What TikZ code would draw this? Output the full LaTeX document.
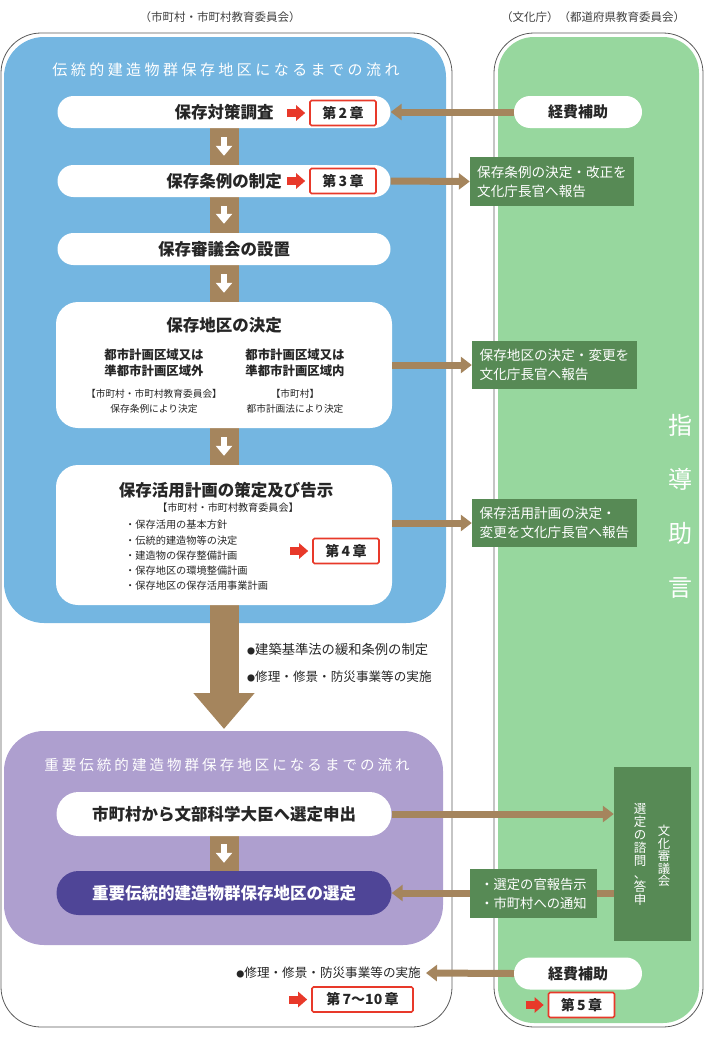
\documentclass[tikz,border=0pt]{standalone}
\usepackage{fontspec}
\setmainfont{Noto Sans CJK JP}
\usetikzlibrary{arrows.meta,positioning}
\definecolor{skyblue}{HTML}{74B6E1}
\definecolor{leafgreen}{HTML}{97D79E}
\definecolor{darkgreen}{HTML}{578A55}
\definecolor{barbrown}{HTML}{A5855D}
\definecolor{lilac}{HTML}{AE9FCF}
\definecolor{deeppurple}{HTML}{4F4597}
\definecolor{chapred}{HTML}{E8392A}
\definecolor{framegray}{HTML}{5A5A5A}
\newcommand\fsz[2]{\fontsize{#1}{#2}\selectfont}
\tikzset{
  pill/.style={fill=white, rounded corners=16pt, minimum width=333pt, minimum height=32pt, inner sep=0pt, text=black!85, font=\fsz{16.5}{19}\bfseries},
  widepill/.style={pill, minimum width=335pt, minimum height=44pt, rounded corners=22pt},
  panel/.style={fill=white, rounded corners=22pt, minimum width=336pt, inner sep=0pt},
  subsidy/.style={pill, minimum width=128pt, font=\fsz{15}{18}\bfseries},
  chapbox/.style={draw=chapred, line width=1.6pt, fill=white, rounded corners=1.5pt, minimum width=66pt, minimum height=25pt, inner sep=0pt, text=black!85, font=\fsz{14}{16}\bfseries},
  redarrow/.style={chapred, line width=8pt, -{Triangle[length=9pt, width=15pt]}},
  report/.style={fill=darkgreen, text=white, align=left, minimum width=165pt, minimum height=48pt, inner sep=0pt, font=\fsz{13.6}{19}},
  bar/.style={barbrown, line width=29pt},
  conn/.style={barbrown, line width=7pt, -{Triangle[length=11pt, width=16pt]}},
  wdown/.style={white, line width=6pt, -{Triangle[length=10pt, width=16pt]}},
  flowtitle/.style={text=white, inner sep=0pt, font=\fsz{15}{18}\addfontfeature{LetterSpace=23}},
  tate/.style={text=white, align=center, inner sep=0pt, font=\fsz{12.5}{13.1}}
}
\begin{document}
\begin{tikzpicture}[x=1pt, y=-1pt]
  \useasboundingbox (0,0) rectangle (707,1052);
  % frames and coloured regions
  \draw[framegray, line width=0.8pt, rounded corners=40pt] (1,33) rectangle (452,1027);
  \draw[framegray, line width=0.8pt, rounded corners=40pt] (494,33) rectangle (703,1027);
  \fill[skyblue, rounded corners=40pt] (4,37) rectangle (446,623);
  \fill[lilac, rounded corners=40pt] (4,731) rectangle (443,945);
  \fill[leafgreen, rounded corners=36pt] (498,37) rectangle (699,1023);
  \node[font=\fsz{11.5}{14}, text=black!75] (hdcity) at (220,17) {（市町村・市町村教育委員会）};
  \node[font=\fsz{11.5}{14}, text=black!75] (hdagency) at (593,17) {（文化庁）（都道府県教育委員会）};
  \node[flowtitle] (titleA) at (226,70) {伝統的建造物群保存地区になるまでの流れ};
  \node[flowtitle, font=\fsz{14.5}{18}\addfontfeature{LetterSpace=21}] (titleB) at (227,765) {重要伝統的建造物群保存地区になるまでの流れ};
  % brown spine
  \coordinate (bartop) at (224,112);
  \coordinate (tip) at (224,729);
  \draw[bar, -{Triangle[length=36pt, width=59pt]}] (bartop) -- (tip);
  \coordinate (applyc) at (224,814);
  \coordinate (designc) at (224,893);
  \draw[bar] (applyc) -- (designc);
  % steps
  \node[pill] (survey) at (224,112) {保存対策調査};
  \node[pill] (ordinance) at (224,181) {保存条例の制定};
  \node[pill] (council) at (224,249) {保存審議会の設置};
  \node[panel, minimum height=126pt] (district) at (224,365) {};
  \node[font=\fsz{16.5}{19}\bfseries, text=black!85] (districttitle) at (224,325) {保存地区の決定};
  \node[font=\fsz{12.4}{16}\bfseries, text=black!85, align=center] (outside) at (154,363) {都市計画区域又は\\準都市計画区域外};
  \node[font=\fsz{9.7}{15}, text=black!85, align=center] (outsideby) at (154,401.5) {【市町村・市町村教育委員会】\\保存条例により決定};
  \node[font=\fsz{12.4}{16}\bfseries, text=black!85, align=center] (inside) at (295,363) {都市計画区域又は\\準都市計画区域内};
  \node[font=\fsz{9.7}{15}, text=black!85, align=center] (insideby) at (295,401.5) {【市町村】\\都市計画法により決定};
  \node[panel, minimum height=140pt] (plan) at (224,535) {};
  \node[font=\fsz{16.5}{19}\bfseries, text=black!85] (plantitle) at (226,490) {保存活用計画の策定及び告示};
  \node[font=\fsz{10.1}{12}, text=black!85] (planby) at (228,508) {【市町村・市町村教育委員会】};
  \node[font=\fsz{10.2}{15.3}, text=black!85, align=left, anchor=west, inner sep=0pt] (planitems) at (125,555.5) {・保存活用の基本方針\\・伝統的建造物等の決定\\・建造物の保存整備計画\\・保存地区の環境整備計画\\・保存地区の保存活用事業計画};
  \foreach \a/\b in {survey/ordinance, ordinance/council, council/district, district/plan}
    \draw[wdown] ([yshift=-9pt]\a.south) -- ([yshift=9pt]\b.north);
  % chapters
  \node[chapbox] (ch2) at (343,113) {第\,2\,章};
  \node[chapbox] (ch3) at (343,181) {第\,3\,章};
  \node[chapbox] (ch4) at (346,551) {第\,4\,章};
  \node[chapbox, minimum width=101pt] (ch710) at (362.5,999.5) {第\,7～10\,章};
  \node[chapbox] (ch5) at (581.5,1005) {第\,5\,章};
  \foreach \c in {ch2, ch3, ch4, ch710, ch5}
    \draw[redarrow] ([xshift=-22pt]\c.west) -- ([xshift=-4pt]\c.west);
  % agency side
  \node[subsidy] (subsidyA) at (578,112) {経費補助};
  \node[subsidy] (subsidyB) at (578,973.5) {経費補助};
  \node[report, minimum width=164pt, minimum height=49pt] (reportA) at (552,181.5) {保存条例の決定・改正を\\文化庁長官へ報告};
  \node[report] (reportB) at (554.5,365) {保存地区の決定・変更を\\文化庁長官へ報告};
  \node[report] (reportC) at (554.5,523) {保存活用計画の決定・\\変更を文化庁長官へ報告};
  \draw[conn] (subsidyA.west) -- (survey.east);
  \draw[conn] (ordinance.east) -- (reportA.west);
  \draw[conn] (district.east) -- (reportB.west);
  \draw[conn] (plan.east |- reportC.west) -- (reportC.west);
  \node[font=\fsz{24}{54}, text=white, align=center] (guidance) at (680,506) {指\\導\\助\\言};
  % after the local flow
  \node[font=\fsz{13.3}{16}, text=black!85, anchor=west, inner sep=0pt] (relax) at (247,649) {{\fsz{8}{8}●}建築基準法の緩和条例の制定};
  \node[font=\fsz{12.6}{16}, text=black!85, anchor=west, inner sep=0pt] (worksA) at (247,677) {{\fsz{8}{8}●}修理・修景・防災事業等の実施};
  % national flow
  \node[widepill] (apply) at (applyc) {市町村から文部科学大臣へ選定申出};
  \node[widepill, fill=deeppurple, text=white] (designate) at (designc) {重要伝統的建造物群保存地区の選定};
  \draw[wdown] ([yshift=-8pt]apply.south) -- ([yshift=8pt]designate.north);
  \node[fill=darkgreen, minimum width=77pt, minimum height=174pt, inner sep=0pt] (deliberation) at (652.5,854) {};
  \node[tate, font=\fsz{12.4}{12.4}] (deliberationname) at (664,856) {文\\化\\審\\議\\会};
  \node[tate] (deliberationtask) at (640,854.5) {選\\定\\の\\諮\\問\\、\\答\\申};
  \draw[conn] (apply.east) -- (apply.east -| deliberation.west);
  \draw[conn] (deliberation.west |- designate.east) -- (designate.east);
  \node[report, minimum width=127pt, minimum height=49pt, font=\fsz{13.3}{19}] (notice) at (533.5,893.5) {・選定の官報告示\\・市町村への通知};
  \node[font=\fsz{12.6}{16}, text=black!85, anchor=east, inner sep=0pt] (worksB) at (421,973) {{\fsz{8}{8}●}修理・修景・防災事業等の実施};
  \draw[conn] (subsidyB.west) -- ([xshift=5pt]worksB.east);
\end{tikzpicture}
\end{document}
